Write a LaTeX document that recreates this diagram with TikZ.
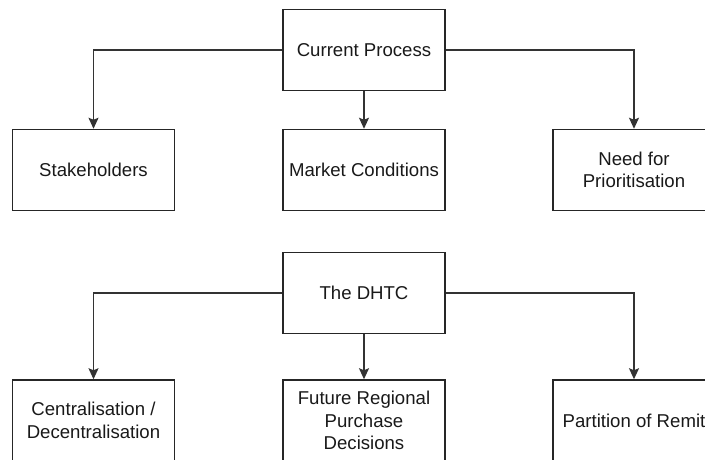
\documentclass[tikz,border=0pt]{standalone}
\usepackage{fontspec}
\setmainfont{Liberation Sans}
\usetikzlibrary{arrows.meta}
\begin{document}
\begin{tikzpicture}[x=1pt,y=-1pt,
  box/.style={draw=black!85, line width=1.5pt, minimum width=162pt, minimum height=81pt,
    inner sep=0pt, align=center, text=black!90,
    font=\fontsize{18.6}{22.5}\selectfont},
  link/.style={draw=black!80, line width=1.5pt,
    -{Stealth[length=11pt,width=10pt,inset=2pt]}}]
\useasboundingbox (0,0) rectangle (705,459);
\clip (0,0) rectangle (705,459);

% first tree
\node[box] (cp) at (364,50) {Current Process};
\node[box] (sh) at (93.5,170) {Stakeholders};
\node[box] (mc) at (364,170) {Market Conditions};
\node[box] (np) at (634,170) {Need for\\Prioritisation};

\draw[link] (cp.west) -| (sh.north);
\draw[link] (cp.south) -- (mc.north);
\draw[link] (cp.east) -| (np.north);

% second tree
\node[box] (dh) at (364,293) {The DHTC};
\node[box] (cd) at (93.5,420.5) {Centralisation /\\Decentralisation};
\node[box] (fr) at (364,420.5) {Future Regional\\Purchase\\Decisions};
\node[box] (pr) at (634,420.5) {Partition of Remit};

\draw[link] (dh.west) -| (cd.north);
\draw[link] (dh.south) -- (fr.north);
\draw[link] (dh.east) -| (pr.north);
\end{tikzpicture}
\end{document}
